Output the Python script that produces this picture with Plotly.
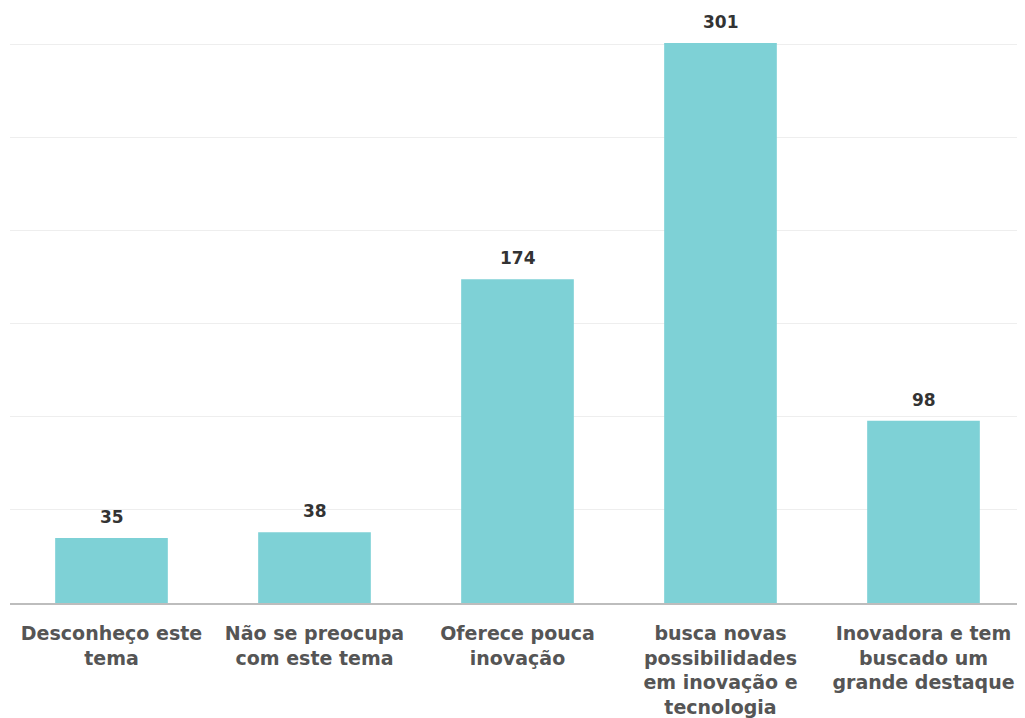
import plotly.graph_objects as go

categories = ["Desconheço este<br>tema", "Não se preocupa<br>com este tema", "Oferece pouca<br>inovação",
              "busca novas<br>possibilidades<br>em inovação e<br>tecnologia", "Inovadora e tem<br>buscado um<br>grande destaque"]
values = [35, 38, 174, 301, 98]

FONT = "DejaVu Sans"

fig = go.Figure(go.Bar(x=categories, y=values, marker_color="#7ED1D6", marker_line_width=0, hoverinfo="skip"))

for c, v in zip(categories, values):
    fig.add_annotation(x=c, y=v, text=f"<b>{v}</b>", showarrow=False, yanchor="bottom", yshift=9,
                       font=dict(family=FONT, size=17, color="#333333"))

fig.update_layout(
    width=1017, height=710,
    margin=dict(l=2, r=0, t=35, b=115),
    paper_bgcolor="white", plot_bgcolor="white",
    bargap=0.445, showlegend=False,
    font=dict(family=FONT, size=19, color="#555555"),
)
fig.update_xaxes(showline=True, linecolor="#BDBDBD", linewidth=2, ticks="outside", ticklen=12, tickcolor="rgba(0,0,0,0)",
                 tickfont=dict(family=FONT, size=19, color="#555555"), tickangle=0,
                 tickvals=categories, ticktext=[f"<b>{c}</b>" for c in categories])
fig.update_yaxes(range=[0, 301], dtick=50, showgrid=True, gridcolor="#EEEEEE", gridwidth=1, showticklabels=False,
                 zeroline=False)
fig.write_html("out.html")
